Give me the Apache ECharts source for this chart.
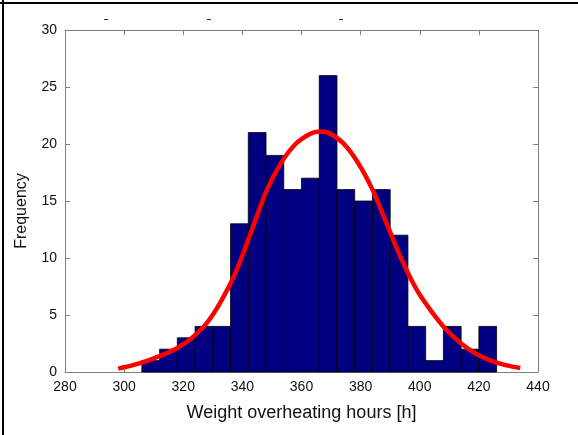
<!DOCTYPE html>
<html>
<head>
<meta charset="utf-8">
<title>Weight overheating hours</title>
<script src="https://cdn.jsdelivr.net/npm/echarts@6/dist/echarts.min.js"></script>
<style>
	html, body { margin: 0; padding: 0; background: #fff; }
	#chart { width: 578px; height: 435px; }
</style>
</head>
<body>
<div id="chart"></div>
<script>
/* 直方图数据 (bin centres, width 6 h) */
var binCenters = [309, 315, 321, 327, 333, 339, 345, 351, 357, 363, 369, 375, 381, 387, 393, 399, 405, 411, 417, 423];
var binCounts  = [1, 2, 3, 4, 4, 13, 21, 19, 16, 17, 26, 16, 15, 16, 12, 4, 1, 4, 2, 4];
var binWidth = 6;

/* fitted curve */
var fitX = [298, 303, 308, 313, 318, 323, 328, 333, 338, 343, 348, 353, 358, 363, 366, 369, 374, 379, 384, 389, 394, 399, 404, 409, 414, 419, 424, 429, 434];
var fitY = [0.3, 0.6, 1.0, 1.5, 2.1, 3.0, 4.3, 6.3, 8.9, 12.3, 15.8, 18.3, 20.0, 20.9, 21.1, 21.0, 20.1, 18.4, 16.0, 12.9, 9.8, 7.2, 5.3, 3.7, 2.5, 1.6, 1.0, 0.6, 0.35];

var xTicks = { min: 280, max: 440, interval: 20 };
var yTicks = { min: 0, max: 30, interval: 5 };

var frameColor = '#808080';
var font = 'Liberation Sans, Arial, sans-serif';

function zip(a, b){
	var out = [], i;
	for (i = 0; i < a.length; i++) {
		out.push([a[i], b[i]]);
	}
	return out;
}

function boxAxis(extra){
	var ax = {
		type: 'value',
		min: 0, max: 0, interval: 1,
		splitLine: { show: false },
		axisLine: { show: true, onZero: false, lineStyle: { color: frameColor, width: 1 } },
		axisTick: { show: true, inside: true, length: 5, lineStyle: { color: frameColor } },
		axisLabel: { show: false }
	};
	for (var k in extra) {
		if (extra.hasOwnProperty(k)) ax[k] = extra[k];
	}
	return ax;
}

var chart = echarts.init(document.getElementById('chart'), null, { renderer: 'canvas' });

chart.setOption({
	animation: false,
	backgroundColor: '#fff',
	grid: { left: 65, right: 40, top: 30, bottom: 63, outerBoundsMode: 'none' },
	xAxis: [
		boxAxis({
			min: xTicks.min, max: xTicks.max, interval: xTicks.interval,
			position: 'bottom',
			name: 'Weight overheating hours [h]',
			nameLocation: 'middle',
			nameGap: 32,
			nameTextStyle: { fontFamily: font, fontSize: 18, color: '#111' },
			axisLabel: { show: true, margin: 8, fontFamily: font, fontSize: 14, color: '#111' }
		}),
		boxAxis({ min: xTicks.min, max: xTicks.max, interval: xTicks.interval, position: 'top' })
	],
	yAxis: [
		boxAxis({
			min: yTicks.min, max: yTicks.max, interval: yTicks.interval,
			position: 'left',
			axisLabel: { show: true, margin: 8, fontFamily: font, fontSize: 14, color: '#111' }
		}),
		boxAxis({ min: yTicks.min, max: yTicks.max, interval: yTicks.interval, position: 'right' })
	],
	series: [
		{
			type: 'custom',
			xAxisIndex: 0,
			yAxisIndex: 0,
			z: 2,
			data: zip(binCenters, binCounts),
			renderItem: function(params, api){
				var c = api.value(0), h = api.value(1);
				var p0 = api.coord([c - binWidth / 2, 0]);
				var p1 = api.coord([c + binWidth / 2, h]);
				return {
					type: 'rect',
					shape: { x: p0[0], y: p1[1], width: p1[0] - p0[0], height: p0[1] - p1[1] },
					style: { fill: '#000080', stroke: '#000', lineWidth: 0.8 }
				};
			}
		},
		{
			type: 'line',
			xAxisIndex: 0,
			yAxisIndex: 0,
			z: 5,
			smooth: 0.3,
			showSymbol: false,
			data: zip(fitX, fitY),
			lineStyle: { color: '#ff0000', width: 4.5 }
		}
	],
	graphic: [
		// y axis title, sits a little below the middle of the plot
		{
			type: 'text', x: 22, y: 211, rotation: Math.PI / 2,
			style: { text: 'Frequency', fontFamily: font, fontSize: 16, fill: '#111', align: 'center', verticalAlign: 'middle' }
		},
		// figure frame, only top and left edges are visible
		{ type: 'line', shape: { x1: 0, y1: 3, x2: 578, y2: 3 }, style: { stroke: '#000', lineWidth: 2 } },
		{ type: 'line', shape: { x1: 3, y1: 0, x2: 3, y2: 435 }, style: { stroke: '#000', lineWidth: 2 } },
		// stray dashes above the plot
		{ type: 'line', shape: { x1: 104, y1: 19.5, x2: 108, y2: 19.5 }, style: { stroke: '#333', lineWidth: 1 } },
		{ type: 'line', shape: { x1: 207, y1: 19.5, x2: 211, y2: 19.5 }, style: { stroke: '#333', lineWidth: 1 } },
		{ type: 'line', shape: { x1: 339, y1: 19.5, x2: 343, y2: 19.5 }, style: { stroke: '#333', lineWidth: 1 } }
	]
});
</script>
</body>
</html>
